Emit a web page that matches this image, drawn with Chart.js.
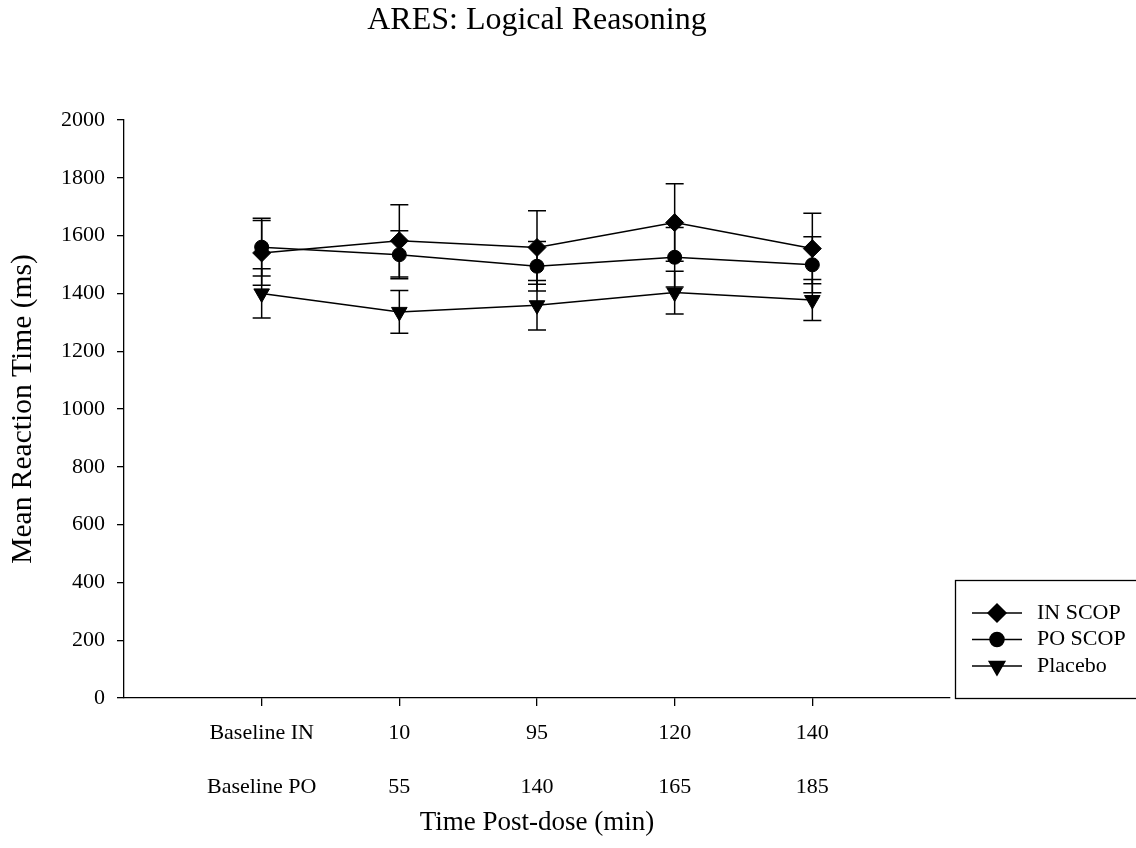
<!DOCTYPE html>
<html>
<head>
<meta charset="utf-8">
<script src="https://cdn.jsdelivr.net/npm/chart.js@4.4.1/dist/chart.umd.min.js"></script>
<style>
  html, body { margin: 0; padding: 0; background: #fff; }
  #wrap { width: 1136px; height: 848px; }
</style>
</head>
<body>
<div id="wrap"><canvas id="chartAres" width="1136" height="848"></canvas></div>
<script>
// datos
const xVals = [1, 2, 3, 4, 5];
const rowIN = ['Baseline IN', '10', '95', '120', '140'];
const rowPO = ['Baseline PO', '55', '140', '165', '185'];
const yTicks = [0, 200, 400, 600, 800, 1000, 1200, 1400, 1600, 1800, 2000];

const inScop = [1540, 1582, 1559, 1645, 1555];
const inScopErr = [112, 125, 127, 134, 122];
const poScop = [1560, 1534, 1494, 1525, 1499];
const poScopErr = [100, 83, 86, 103, 97];
const placebo = [1400, 1336, 1359, 1403, 1377];
const placeboErr = [85, 74, 86, 74, 71];

const seriesNames = ['IN SCOP', 'PO SCOP', 'Placebo'];

const SERIF = "'Liberation Serif', 'Times New Roman', serif";

// barras de error con las escalas del chart
const errorBars = {
    id: 'errorBars',
    beforeDatasetsDraw(chart) {
        const { ctx, scales: { x, y } } = chart;
        ctx.save();
        ctx.strokeStyle = '#000';
        ctx.lineWidth = 1.5;
        chart.data.datasets.forEach(ds => {
            ds.data.forEach((p, j) => {
                const e = ds.errors[j];
                const px = x.getPixelForValue(p.x);
                const yt = y.getPixelForValue(p.y + e);
                const yb = y.getPixelForValue(p.y - e);
                ctx.beginPath();
                ctx.moveTo(px, yt); ctx.lineTo(px, yb);
                ctx.moveTo(px - 9, yt); ctx.lineTo(px + 9, yt);
                ctx.moveTo(px - 9, yb); ctx.lineTo(px + 9, yb);
                ctx.stroke();
            });
        });
        ctx.restore();
    }
};

// leyenda con recuadro abajo a la derecha
const boxLegend = {
    id: 'boxLegend',
    afterDraw(chart) {
        const { ctx } = chart;
        const left = 955.5, top = 580.5, bottom = 698.5;
        ctx.save();
        ctx.strokeStyle = '#000';
        ctx.lineWidth = 1.3;
        ctx.strokeRect(left, top, 1145 - left, bottom - top);
        const rows = [613, 639.5, 666];
        chart.data.datasets.forEach((ds, i) => {
            const yy = rows[i];
            ctx.strokeStyle = '#000';
            ctx.fillStyle = '#000';
            ctx.lineWidth = 1.5;
            ctx.beginPath();
            ctx.moveTo(972, yy); ctx.lineTo(1022, yy);
            ctx.stroke();
            Chart.helpers.drawPoint(ctx, {
                pointStyle: ds.pointStyle,
                rotation: ds.pointRotation || 0,
                radius: ds.pointRadius,
                borderWidth: 1
            }, 997, yy);
            ctx.font = '22px ' + SERIF;
            ctx.textBaseline = 'middle';
            ctx.textAlign = 'left';
            ctx.fillText(ds.label, 1037, yy);
        });
        ctx.restore();
    }
};

function mkSet(label, vals, errs, style, radius, rot) {
    return {
        label: label,
        data: vals.map((v, i) => ({ x: xVals[i], y: v })),
        errors: errs,
        borderColor: '#000',
        backgroundColor: '#000',
        borderWidth: 1.5,
        pointStyle: style,
        pointRadius: radius,
        pointRotation: rot,
        pointBorderWidth: 1,
        pointBackgroundColor: '#000',
        pointBorderColor: '#000',
        tension: 0
    };
}

const ctx = document.getElementById('chartAres').getContext('2d');
new Chart(ctx, {
    type: 'line',
    data: {
        datasets: [
            mkSet(seriesNames[0], inScop, inScopErr, 'rectRot', 9, 0),
            mkSet(seriesNames[1], poScop, poScopErr, 'circle', 7, 0),
            mkSet(seriesNames[2], placebo, placeboErr, 'triangle', 9, 180)
        ]
    },
    options: {
        responsive: false,
        animation: false,
        devicePixelRatio: 1,
        layout: { padding: { top: 0, right: 186, left: 0, bottom: 0 } },
        plugins: {
            legend: { display: false },
            tooltip: { enabled: false },
            title: {
                display: true,
                text: 'ARES: Logical Reasoning',
                color: '#000',
                fullSize: false,
                font: { family: SERIF, size: 32, weight: 'normal', lineHeight: 1.2 },
                padding: { top: 1, bottom: 80.6 }
            }
        },
        scales: {
            x: {
                type: 'linear',
                min: 0,
                max: 6,
                afterBuildTicks: s => { s.ticks = xVals.map(v => ({ value: v })); },
                afterFit: s => { s.height = 150; },
                grid: { display: true, drawOnChartArea: false, drawTicks: true, tickLength: 8, color: '#000', lineWidth: 1.3 },
                border: { display: true, color: '#000', width: 1.3 },
                ticks: {
                    autoSkip: false,
                    maxRotation: 0,
                    padding: 0,
                    color: '#000',
                    font: { family: SERIF, size: 22, lineHeight: 54 / 22 },
                    callback: (v, i) => [rowIN[i], rowPO[i]]
                },
                title: {
                    display: true,
                    text: 'Time Post-dose (min)',
                    color: '#000',
                    font: { family: SERIF, size: 27, lineHeight: 1.2 },
                    padding: { top: 0, bottom: 9 }
                }
            },
            y: {
                min: 0,
                max: 2000,
                afterBuildTicks: s => { s.ticks = yTicks.map(v => ({ value: v })); },
                afterFit: s => { s.width = 124; },
                grid: { display: true, drawOnChartArea: false, drawTicks: true, tickLength: 7, color: '#000', lineWidth: 1.3 },
                border: { display: true, color: '#000', width: 1.3 },
                ticks: {
                    padding: 12,
                    color: '#000',
                    font: { family: SERIF, size: 22 },
                    callback: v => String(v)
                },
                title: {
                    display: true,
                    text: 'Mean Reaction Time (ms)',
                    color: '#000',
                    font: { family: SERIF, size: 29.5, lineHeight: 1.2 },
                    padding: { top: 6, bottom: 0 }
                }
            }
        }
    },
    plugins: [errorBars, boxLegend]
});
</script>
</body>
</html>
